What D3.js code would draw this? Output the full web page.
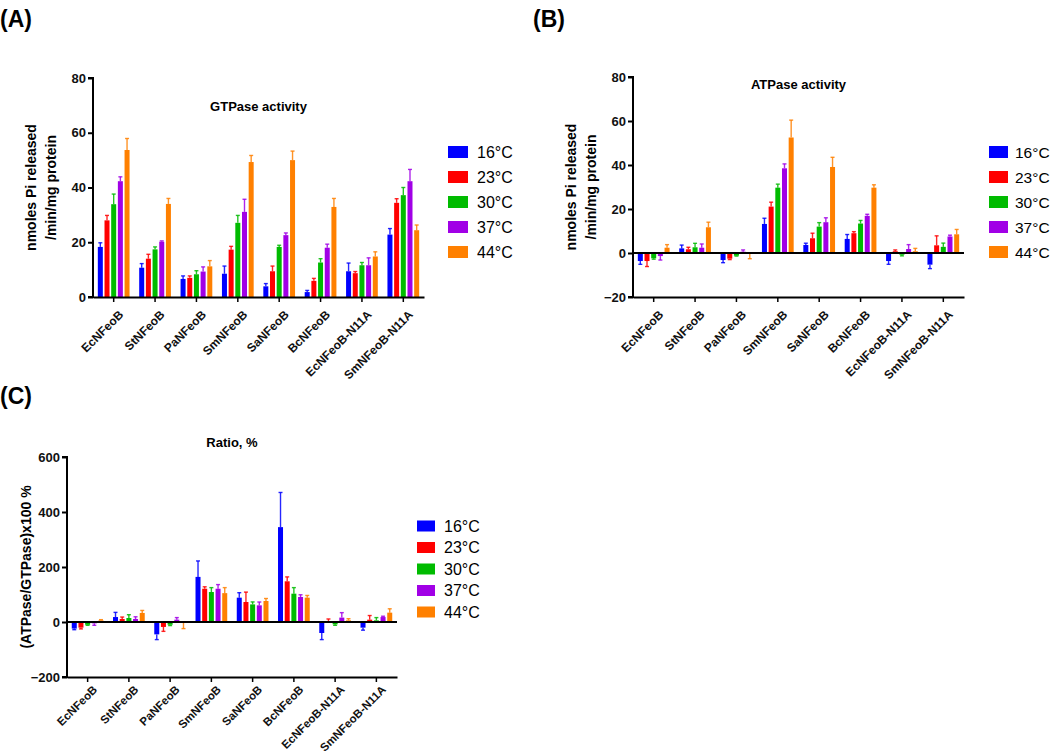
<!DOCTYPE html>
<html><head><meta charset="utf-8">
<script src="https://cdn.jsdelivr.net/npm/d3@7"></script>
<style>
body{margin:0;background:#fff;}
svg{display:block;font-family:"Liberation Sans",Arial,sans-serif;}
</style></head><body>
<svg id="c" width="1050" height="755"></svg>
<script>
const categories = ["EcNFeoB","StNFeoB","PaNFeoB","SmNFeoB","SaNFeoB","BcNFeoB","EcNFeoB-N11A","SmNFeoB-N11A"];
const temps = ["16°C","23°C","30°C","37°C","44°C"];
const colors = ["#0000FF","#FF0000","#00BB00","#A100E6","#FF8000"];

// GTPase activity (mean, error)
const gtp16 = [18.3,10.7,6.6,8.5,3.9,1.8,9.4,22.8];
const gtp23 = [28.0,14.0,7.0,17.3,9.4,5.9,8.7,34.4];
const gtp30 = [33.9,17.4,8.3,27.1,18.3,12.6,11.6,37.2];
const gtp37 = [42.3,20.2,9.3,31.1,22.6,18.0,11.6,42.3];
const gtp44 = [53.7,34.0,11.2,49.3,50.0,32.9,14.8,24.4];
const gtpErr16 = [1.5,1.5,1.1,2.8,1.0,0.6,3.0,2.2];
const gtpErr23 = [1.8,1.6,0.7,1.2,1.9,0.9,0.6,1.5];
const gtpErr30 = [3.7,0.9,1.3,2.7,0.6,1.4,1.0,2.8];
const gtpErr37 = [1.6,0.3,1.7,4.6,0.8,1.3,2.7,4.3];
const gtpErr44 = [4.2,2.0,2.1,2.4,3.3,3.1,1.7,1.9];

// ATPase activity
const atp16 = [-3.65,2.1,-3.2,13.2,3.65,6.4,-3.65,-5.3];
const atp23 = [-3.65,1.7,-2.6,21.1,6.7,9.0,0.8,3.5];
const atp30 = [-2.4,2.6,-1.2,29.7,12.0,13.4,-0.8,2.8];
const atp37 = [-1.4,2.4,0.6,38.5,14.0,16.9,1.8,7.5];
const atp44 = [2.4,11.7,-0.4,52.5,39.1,29.7,0.8,8.5];
const atpErr16 = [1.5,1.5,1.2,2.6,0.8,2.0,1.5,1.8];
const atpErr23 = [2.5,0.9,0.4,2.0,2.3,0.7,0.6,4.3];
const atpErr30 = [0.4,1.8,0.2,1.6,1.8,1.4,0.5,1.7];
const atpErr37 = [1.8,1.7,0.8,2.0,2.0,0.7,2.0,0.6];
const atpErr44 = [1.4,2.3,2.2,7.9,4.4,1.3,1.3,2.2];

// Ratio, %
const rat16 = [-24,18,-45,164,88.5,345,-40,-20.6];
const rat23 = [-20.6,11,-18,121,72.7,148,3,8.5];
const rat30 = [-10,14.5,-10,109,64,103,-8.5,6];
const rat37 = [-5,11,8.5,121,60.6,91,16,18];
const rat44 = [6,33,-3,105,76.4,88.5,6,34];
const ratErr16 = [4,17,19,58,18,126,24,9];
const ratErr23 = [4.5,7,16,7,36,16,8,15];
const ratErr30 = [2,12,3,16,9,22,3.5,10];
const ratErr37 = [7,8,7.5,15,12,8,18,3];
const ratErr44 = [2.5,9,21,20,9,8,6,14];

const gtpTicks = [0,20,40,60,80];
const atpTicks = [-20,0,20,40,60,80];
const ratTicks = [-200,0,200,400,600];

const svg = d3.select("#c");

function panel(cfg){
  const g = svg.append("g");
  const x0 = d3.scaleBand().domain(categories).range([cfg.x0, cfg.x1]);
  const x1 = d3.scaleBand().domain(temps).range([-16.7, 16.7]).paddingInner(0.25).paddingOuter(0.125);
  const y = d3.scaleLinear().domain(cfg.domain).range([cfg.yBottom, cfg.yTop]);

  const rows = [];
  temps.forEach((t,ti)=>{
    categories.forEach((c,ci)=>{
      rows.push({c, t, ti, v: cfg.means[ti][ci], e: cfg.errs[ti][ci]});
    });
  });

  // error bars
  const eg = g.append("g");
  rows.forEach(d=>{
    const cx = x0(d.c) + x0.bandwidth()/2 + x1(d.t) + x1.bandwidth()/2;
    const end = d.v >= 0 ? d.v + d.e : d.v - d.e;
    eg.append("line").attr("x1",cx).attr("x2",cx).attr("y1",y(d.v)).attr("y2",y(end))
      .attr("stroke",colors[d.ti]).attr("stroke-width",1.4).attr("stroke-opacity",0.85);
    eg.append("line").attr("x1",cx-2).attr("x2",cx+2).attr("y1",y(end)).attr("y2",y(end))
      .attr("stroke",colors[d.ti]).attr("stroke-width",1.4).attr("stroke-opacity",0.85);
  });
  // bars
  g.append("g").selectAll("rect").data(rows).join("rect")
    .attr("x", d=> x0(d.c) + x0.bandwidth()/2 + x1(d.t))
    .attr("width", x1.bandwidth())
    .attr("y", d=> y(Math.max(0,d.v)))
    .attr("height", d=> Math.abs(y(d.v)-y(0)))
    .attr("fill", d=> colors[d.ti]);

  // y axis
  const ya = g.append("g").attr("transform",`translate(${cfg.x0},0)`)
    .call(d3.axisLeft(y).tickValues(cfg.ticks).tickSize(5).tickPadding(2).tickFormat(d3.format("d")));
  ya.select(".domain").attr("stroke-width",2).attr("d",`M-5,${cfg.yTop}H0V${cfg.yBottom}H-5`);
  ya.selectAll(".tick line").attr("stroke-width",2);
  ya.selectAll("text").attr("font-size",13).attr("font-weight","bold").attr("fill","#111");

  // x axis at bottom
  const xa = g.append("g").attr("transform",`translate(0,${cfg.yBottom})`)
    .call(d3.axisBottom(x0).tickSize(5).tickSizeOuter(0).tickPadding(4));
  xa.select(".domain").attr("stroke-width",2);
  xa.selectAll(".tick line").attr("stroke-width",1.5);
  xa.selectAll("text").attr("font-size",cfg.lblFs).attr("font-weight","bold").attr("fill","#111")
    .attr("text-anchor","end").attr("dy",null)
    .attr("transform",`translate(4,${cfg.lblDy}) rotate(-45)`);

  // zero line if needed
  if (cfg.domain[0] < 0){
    g.append("line").attr("x1",cfg.x0).attr("x2",cfg.x1).attr("y1",y(0)).attr("y2",y(0))
      .attr("stroke","#000").attr("stroke-width",2);
  }

  // title
  g.append("text").attr("x",(cfg.x0+cfg.x1)/2).attr("y",cfg.titleY).attr("text-anchor","middle")
    .attr("font-size",13).attr("font-weight","bold").text(cfg.title);

  // y title
  const ym = (cfg.yTop+cfg.yBottom)/2;
  cfg.yTitle.forEach((s,i)=>{
    g.append("text").attr("transform",`translate(${cfg.yTitleX[i]},${ym}) rotate(-90)`)
      .attr("text-anchor","middle").attr("font-size",14).attr("font-weight","bold").text(s);
  });

  // legend
  const lg = g.append("g");
  temps.forEach((t,i)=>{
    const cy = cfg.leg.y + i*cfg.leg.dy;
    lg.append("rect").attr("x",cfg.leg.x).attr("y",cy-cfg.leg.h/2).attr("width",cfg.leg.w).attr("height",cfg.leg.h).attr("fill",colors[i]);
    lg.append("text").attr("x",cfg.leg.tx).attr("y",cy).attr("dy","0.36em").attr("font-size",cfg.leg.fs).text(t);
  });

  // panel label
  g.append("text").attr("x",cfg.label.x).attr("y",cfg.label.y).attr("font-size",23).attr("font-weight","bold").text(cfg.label.t);
}

panel({
  x0:93, x1:424, yTop:78, yBottom:297, domain:[0,80], ticks:gtpTicks,
  means:[gtp16,gtp23,gtp30,gtp37,gtp44], errs:[gtpErr16,gtpErr23,gtpErr30,gtpErr37,gtpErr44],
  title:"GTPase activity", titleY:111, lblDy:12, lblFs:12,
  yTitle:["nmoles Pi released","/min/mg protein"], yTitleX:[36,56],
  leg:{x:448,w:20,h:12,tx:477,y:152,dy:25,fs:16},
  label:{x:0,y:27,t:"(A)"}
});
panel({
  x0:633, x1:964, yTop:77, yBottom:297, domain:[-20,80], ticks:atpTicks,
  means:[atp16,atp23,atp30,atp37,atp44], errs:[atpErr16,atpErr23,atpErr30,atpErr37,atpErr44],
  title:"ATPase activity", titleY:89, lblDy:12, lblFs:12,
  yTitle:["nmoles Pi released","/min/mg protein"], yTitleX:[576,596],
  leg:{x:989,w:19,h:12,tx:1015,y:152,dy:25,fs:15.5},
  label:{x:533,y:27,t:"(B)"}
});
panel({
  x0:67, x1:397, yTop:457, yBottom:677, domain:[-200,600], ticks:ratTicks,
  means:[rat16,rat23,rat30,rat37,rat44], errs:[ratErr16,ratErr23,ratErr30,ratErr37,ratErr44],
  title:"Ratio, %", titleY:447, lblDy:7, lblFs:11.5,
  yTitle:["(ATPase/GTPase)x100 %"], yTitleX:[31],
  leg:{x:417,w:18,h:11,tx:444,y:526,dy:21.5,fs:16},
  label:{x:0,y:404,t:"(C)"}
});
</script>
</body></html>
